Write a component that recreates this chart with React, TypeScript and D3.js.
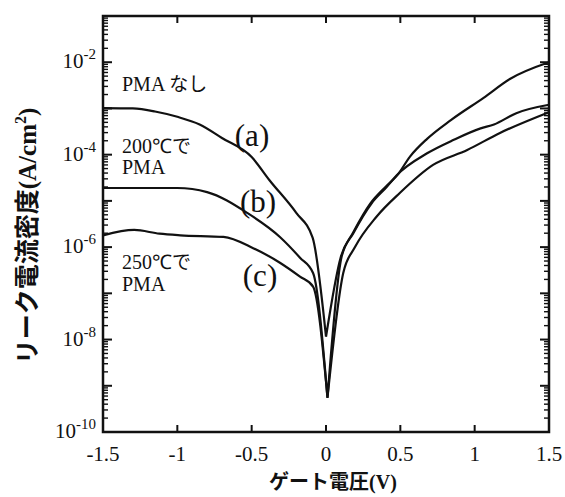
import React from "react";
import { scaleLinear, scaleLog, line, curveMonotoneX, range, minIndex } from "d3";

// gate voltage (V) and leakage current density (A/cm2)
const voltA = [-1.5, -1.3, -1.15, -1.0, -0.85, -0.7, -0.5, -0.38, -0.2, -0.09, 0, 0.1, 0.18, 0.3, 0.4, 0.48, 0.565, 0.68, 0.84, 1.06, 1.24, 1.5];
const currA = [1.02e-3, 1.0e-3, 8.6e-4, 6.6e-4, 4.5e-4, 2.3e-4, 8.9e-5, 2.8e-5, 5.5e-6, 1.6e-6, 1.15e-8, 6.2e-7, 2.0e-6, 8.9e-6, 2.0e-5, 3.6e-5, 9.1e-5, 2.2e-4, 5.6e-4, 1.7e-3, 4.4e-3, 1.0e-2];

const voltB = [-1.5, -1.0, -0.8, -0.53, -0.31, -0.175, -0.087, 0.01, 0.105, 0.184, 0.307, 0.408, 0.476, 0.68, 0.86, 1.04, 1.13, 1.28, 1.5];
const currB = [1.9e-5, 1.9e-5, 1.55e-5, 5.5e-6, 1.66e-6, 5.9e-7, 2.75e-7, 5.5e-10, 6.2e-7, 2.0e-6, 8.9e-6, 2.0e-5, 3.6e-5, 1.07e-4, 2.1e-4, 3.7e-4, 4.5e-4, 7.9e-4, 1.2e-3];

const voltC = [-1.5, -1.29, -1.12, -0.98, -0.69, -0.49, -0.31, -0.175, -0.087, 0.01, 0.116, 0.195, 0.341, 0.498, 0.72, 0.95, 1.17, 1.5];
const currC = [1.8e-6, 2.35e-6, 1.95e-6, 1.8e-6, 1.66e-6, 9.5e-7, 4.6e-7, 2.3e-7, 1.4e-7, 5.5e-10, 2.75e-7, 1.0e-6, 4.6e-6, 1.5e-5, 6.0e-5, 1.26e-4, 2.95e-4, 8.3e-4];

const xTicks = [-1.5, -1, -0.5, 0, 0.5, 1, 1.5];
const xTickLabels = ["-1.5", "-1", "-0.5", "0", "0.5", "1", "1.5"];
const yExponents = [-10, -8, -6, -4, -2];

const W = 565;
const H = 497;
const left = 103, right = 549, top = 16, bottom = 432;
const serif = "'Liberation Serif', 'Times New Roman', serif";
const jp = "'Noto Sans CJK JP', sans-serif";

export default function App() {
  const x = scaleLinear().domain([-1.5, 1.5]).range([left, right]);
  const y = scaleLog().domain([1e-10, 1e-1]).range([bottom, top]);

  const gen = line<[number, number]>()
    .x((d) => x(d[0]))
    .y((d) => y(d[1]))
    .curve(curveMonotoneX);

  // smooth each arm separately so the dip at 0 V stays sharp
  const path = (vs: number[], cs: number[]) => {
    const pts = vs.map((v, i) => [v, cs[i]] as [number, number]);
    const m = minIndex(cs);
    return (gen(pts.slice(0, m + 1)) as string) + (gen(pts.slice(m)) as string);
  };

  const decades = range(-10, -1);
  const minor: number[] = [];
  decades.forEach((e) => {
    for (let k = 2; k <= 9; k++) minor.push(k * Math.pow(10, e));
  });
  const major = range(-10, 0).map((e) => Math.pow(10, e));

  return (
    <svg width={W} height={H} style={{ position: "absolute", left: 0, top: 0, background: "#fff" }}>
      <rect width={W} height={H} fill="#fff" />

      {/* curves */}
      <g fill="none" stroke="#111" strokeWidth={2.2} strokeLinejoin="round">
        <path d={path(voltA, currA)} />
        <path d={path(voltB, currB)} />
        <path d={path(voltC, currC)} />
      </g>

      {/* ticks */}
      <g stroke="#111" strokeWidth={1.4}>
        {major.map((v, i) => (
          <g key={"M" + i}>
            <line x1={left} x2={left + 9} y1={y(v)} y2={y(v)} strokeWidth={2} />
            <line x1={right} x2={right - 9} y1={y(v)} y2={y(v)} strokeWidth={2} />
          </g>
        ))}
        {minor.map((v, i) => (
          <g key={"m" + i}>
            <line x1={left} x2={left + 5} y1={y(v)} y2={y(v)} />
            <line x1={right} x2={right - 5} y1={y(v)} y2={y(v)} />
          </g>
        ))}
        {xTicks.map((v, i) => (
          <g key={"x" + i}>
            <line x1={x(v)} x2={x(v)} y1={bottom} y2={bottom - 7} strokeWidth={2} />
            <line x1={x(v)} x2={x(v)} y1={top} y2={top + 7} strokeWidth={2} />
          </g>
        ))}
      </g>

      {/* frame */}
      <rect x={left} y={top} width={right - left} height={bottom - top} fill="none" stroke="#111" strokeWidth={2.5} />

      {/* x tick labels */}
      <g fontFamily={serif} fontSize={21} fill="#111" textAnchor="middle">
        {xTicks.map((v, i) => (
          <text key={i} x={x(v)} y={bottom + 29}>{xTickLabels[i]}</text>
        ))}
      </g>

      {/* y tick labels */}
      <g fontFamily={serif} fill="#111" textAnchor="end">
        {yExponents.map((e) => (
          <text key={e} x={96} y={y(Math.pow(10, e)) + 6} fontSize={21}>
            10<tspan fontSize={15} dy={-9}>{String(e)}</tspan>
          </text>
        ))}
      </g>

      {/* annotations */}
      <g fontFamily={serif} fill="#111" fontSize={20}>
        <text x={122} y={91}>PMA <tspan fontFamily={jp} fontSize={19}>なし</tspan></text>
        <text x={122} y={153}>200℃<tspan fontFamily={jp} fontSize={19}>で</tspan></text>
        <text x={122} y={174}>PMA</text>
        <text x={122} y={269}>250℃<tspan fontFamily={jp} fontSize={19}>で</tspan></text>
        <text x={122} y={291}>PMA</text>
      </g>
      <g fontFamily={serif} fill="#111" fontSize={31} textAnchor="middle">
        <text x={252} y={146}>(a)</text>
        <text x={258} y={212}>(b)</text>
        <text x={260} y={286}>(c)</text>
      </g>

      {/* axis titles */}
      <text x={333} y={489} textAnchor="middle" fontFamily={jp} fontWeight={700} fontSize={20} fill="#111">
        ゲート電圧<tspan fontFamily={serif}>(V)</tspan>
      </text>
      <text
        transform={`translate(36, 236) rotate(-90)`}
        textAnchor="middle"
        fontFamily={jp}
        fontWeight={700}
        fontSize={25}
        fill="#111"
      >
        リーク電流密度<tspan fontFamily={serif}>(A/cm<tspan fontSize={16} dy={-10}>2</tspan><tspan dy={10}>)</tspan></tspan>
      </text>
    </svg>
  );
}
